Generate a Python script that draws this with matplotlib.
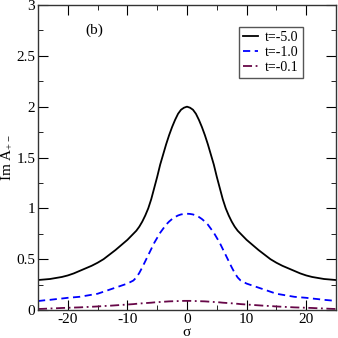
import matplotlib
matplotlib.use("Agg")
import matplotlib.pyplot as plt
from matplotlib.ticker import MultipleLocator

plt.rcParams['font.family'] = ['Liberation Serif', 'DejaVu Serif']
plt.rcParams['mathtext.fontset'] = 'custom'
plt.rcParams['mathtext.rm'] = 'Liberation Serif'
plt.rcParams['mathtext.it'] = 'Liberation Serif:italic'
plt.rcParams['axes.unicode_minus'] = False

# left half of the curves (they are symmetric about 0)
half_sigma = [-25, -24, -23, -22, -21, -20, -19, -18, -17, -16, -15, -14, -13, -12, -11,
              -10, -9.5, -9, -8.5, -8, -7.5, -7, -6.5, -6, -5.5, -5, -4.5, -4, -3.5,
              -3, -2.5, -2, -1.5, -1, -0.5, 0]
half_t5 = [0.295, 0.30, 0.305, 0.315, 0.325, 0.34, 0.36, 0.385, 0.41, 0.435, 0.465, 0.50, 0.545, 0.59, 0.64,
           0.69, 0.72, 0.75, 0.78, 0.82, 0.87, 0.93, 1.00, 1.09, 1.20, 1.31, 1.43, 1.53, 1.63,
           1.72, 1.80, 1.87, 1.93, 1.97, 1.99, 2.0]
half_t1 = [0.088, 0.095, 0.10, 0.107, 0.113, 0.12, 0.125, 0.13, 0.14, 0.15, 0.16, 0.18, 0.20, 0.22, 0.24,
           0.26, 0.275, 0.29, 0.32, 0.365, 0.42, 0.48, 0.54, 0.60, 0.66, 0.71, 0.76, 0.80, 0.84,
           0.87, 0.895, 0.915, 0.93, 0.94, 0.945, 0.947]
half_t01 = [0.01, 0.012, 0.015, 0.017, 0.02, 0.022, 0.024, 0.026, 0.029, 0.032, 0.035, 0.039, 0.042, 0.046, 0.05,
            0.054, 0.056, 0.058, 0.061, 0.063, 0.066, 0.068, 0.07, 0.072, 0.075, 0.077, 0.079, 0.081, 0.083,
            0.085, 0.086, 0.087, 0.088, 0.089, 0.09, 0.09]

sigma = half_sigma + [-s for s in half_sigma[-2::-1]]
t5 = half_t5 + half_t5[-2::-1]
t1 = half_t1 + half_t1[-2::-1]
t01 = half_t01 + half_t01[-2::-1]

labels = ['t=-5.0', 't=-1.0', 't=-0.1']

fig = plt.figure(figsize=(3.38, 3.38), dpi=100)
ax = fig.add_axes([0.1124, 0.0828, 0.8817, 0.9024])

ax.plot(sigma, t5, color='black', lw=1.3, label=labels[0])
ax.plot(sigma, t1, color='#0000ff', lw=1.3, ls=(0, (4, 2.5)), label=labels[1])
ax.plot(sigma, t01, color='#670748', lw=1.3, ls=(0, (5, 2, 1, 2)), label=labels[2])

ax.set_xlim(-25, 25)
ax.set_ylim(0, 3)
ax.xaxis.set_major_locator(MultipleLocator(10))
ax.xaxis.set_minor_locator(MultipleLocator(5))
ax.yaxis.set_major_locator(MultipleLocator(0.5))
ax.yaxis.set_minor_locator(MultipleLocator(0.25))
ax.set_yticks([0, 0.5, 1, 1.5, 2, 2.5, 3], ['0', '0.5', '1', '1.5', '2', '2.5', '3'])
ax.tick_params(which='both', direction='in', top=True, right=True, labelsize=11, pad=2)
ax.tick_params(which='major', length=7)
ax.tick_params(which='minor', length=3.5)
for sp in ax.spines.values():
    sp.set_linewidth(1.0)
    sp.set_color('#333333')

ax.set_xlabel('σ', fontsize=11, labelpad=0)
ax.set_ylabel('Im A$_{+-}$', fontsize=11, labelpad=2)
ax.text(0.16, 0.905, '(b)', transform=ax.transAxes, fontsize=11)

leg = ax.legend(loc='upper right', bbox_to_anchor=(0.889, 0.928), fontsize=10,
                fancybox=False, framealpha=1, edgecolor='#555555', handlelength=1.1,
                handletextpad=0.5, borderpad=0.3, labelspacing=0.15, borderaxespad=0)
leg.get_frame().set_linewidth(1.0)

fig.savefig('out.png', dpi=100)
